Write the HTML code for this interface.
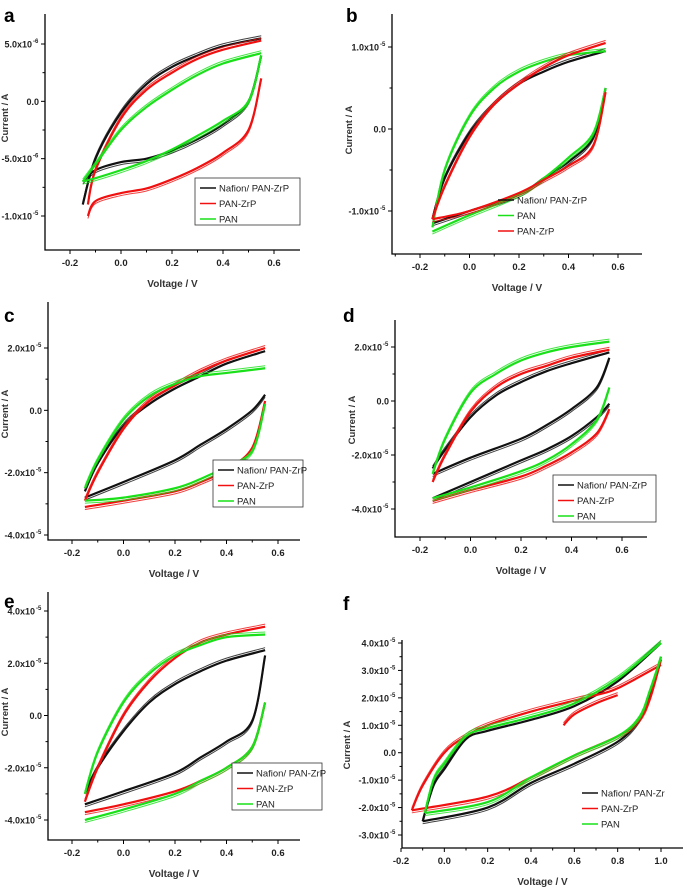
<!DOCTYPE html>
<html><head><meta charset="utf-8">
<style>
html,body{margin:0;padding:0;background:#fff;}
svg{display:block;font-family:"Liberation Sans",Arial,sans-serif;}
</style></head>
<body>
<svg id="fig" width="685" height="888" viewBox="0 0 685 888" xmlns="http://www.w3.org/2000/svg"></svg>
<script>
// ---- data (voltage in V, current in units of the panel scale) ----
const vUp = [-0.15,-0.1,0,0.1,0.2,0.3,0.4,0.55];
const vLo9 = [-0.15,-0.1,0,0.1,0.2,0.3,0.4,0.5,0.55];
const vLo7 = [-0.15,0,0.2,0.3,0.4,0.5,0.55];
// panel a (x1e-6 A)
const aBlackUp=[-9,-5,-1,1.5,3,4,4.8,5.5], aBlackLo=[-7,-6,-5.3,-5,-4.3,-3.3,-2,0,4];
const aRedUp=[-9,-6,-1.5,1,2.5,3.7,4.5,5.3], aRedLo=[-10,-8.7,-8,-7.6,-6.8,-5.8,-4.5,-2.5,2];
const aGreenUp=[-7,-5.5,-2.5,-0.5,1,2.3,3.3,4.2], aGreenLo=[-7,-6.7,-6,-5.2,-4.2,-3,-1.7,0,4];
// panel b (x1e-5 A)
const bBlackUp=[-1.1,-0.6,-0.05,0.3,0.55,0.7,0.82,0.95], bBlackLo=[-1.15,-1.0,-0.8,-0.6,-0.4,-0.1,0.5];
const bGreenUp=[-1.2,-0.5,0.15,0.5,0.7,0.82,0.9,0.95], bGreenLo=[-1.25,-1.05,-0.8,-0.6,-0.35,-0.05,0.5];
const bRedUp=[-1.1,-0.7,-0.1,0.3,0.55,0.75,0.9,1.05], bRedLo=[-1.1,-1.0,-0.78,-0.62,-0.45,-0.2,0.45];
// panel c
const cBlackUp=[-2.6,-1.7,-0.5,0.2,0.7,1.1,1.5,1.9], cBlackLo=[-2.8,-2.3,-1.6,-1.1,-0.6,0,0.5];
const cRedUp=[-2.9,-2.0,-0.6,0.3,0.8,1.25,1.6,2.0], cRedLo=[-3.1,-2.9,-2.6,-2.3,-1.9,-1.2,0.3];
const cGreenUp=[-2.5,-1.6,-0.3,0.45,0.85,1.1,1.2,1.35], cGreenLo=[-2.9,-2.8,-2.5,-2.2,-1.8,-1.3,0.2];
// panel d
const dBlackUp=[-2.5,-1.8,-0.6,0.2,0.7,1.1,1.4,1.8], dBlackLo=[-2.7,-2.1,-1.4,-0.9,-0.3,0.5,1.6];
const dBlack2Lo=[-3.6,-3.0,-2.2,-1.8,-1.3,-0.6,-0.1];
const dRedUp=[-3.0,-2.0,-0.4,0.5,1.0,1.3,1.6,1.9], dRedLo=[-3.7,-3.3,-2.8,-2.4,-1.9,-1.2,-0.3];
const dGreenUp=[-2.7,-1.4,0.3,1.0,1.5,1.8,2.0,2.2], dGreenLo=[-3.6,-3.2,-2.6,-2.2,-1.6,-0.7,0.5];
// panel e
const eBlackUp=[-3.0,-2.0,-0.6,0.5,1.2,1.7,2.1,2.5], eBlackLo=[-3.4,-2.9,-2.2,-1.6,-1.0,-0.2,2.3];
const eRedUp=[-3.3,-2.0,0.0,1.3,2.2,2.8,3.1,3.4], eRedLo=[-3.7,-3.4,-2.9,-2.5,-2.0,-1.2,0.5];
const eGreenUp=[-3.0,-1.4,0.5,1.6,2.3,2.7,3.0,3.1], eGreenLo=[-4.0,-3.6,-3.0,-2.5,-2.0,-1.2,0.5];
// panel f
const fVUp=[-0.1,-0.05,0,0.1,0.2,0.4,0.6,0.8,1.0], fVLo=[-0.1,0.2,0.4,0.6,0.8,0.9,0.95,1.0];
const fBlackUp=[-2.5,-1.2,-0.6,0.5,0.8,1.2,1.7,2.6,4.0], fBlackLo=[-2.5,-2.0,-1.1,-0.4,0.4,1.2,2.2,3.5];
const fGreenUp=[-2.2,-1.0,-0.4,0.6,0.9,1.3,1.8,2.7,4.0], fGreenLo=[-2.2,-1.8,-0.9,-0.1,0.6,1.3,2.3,3.5];
const fRVUp=[-0.15,-0.1,0,0.1,0.2,0.4,0.6,0.7,0.8,1.0], fRedUp=[-2.1,-1.2,0,0.6,1.0,1.5,1.9,2.1,2.35,3.2];
const fRVLo=[-0.15,0.2,0.4,0.6,0.8,0.9,0.95,1.0], fRedLo=[-2.1,-1.6,-0.9,-0.1,0.6,1.2,2.0,3.4];
const fRedTailV=[0.55,0.6,0.7,0.8], fRedTail=[1.0,1.4,1.8,2.1];

const xTicks06=[-0.2,0,0.2,0.4,0.6], xLab06=["-0.2","0.0","0.2","0.4","0.6"];
const xTicksF=[-0.2,0,0.2,0.4,0.6,0.8,1.0], xLabF=["-0.2","0.0","0.2","0.4","0.6","0.8","1.0"];

const NS="http://www.w3.org/2000/svg";
const svg=document.getElementById('fig');
function mk(tag,attrs,parent){const e=document.createElementNS(NS,tag);for(const k in attrs)e.setAttribute(k,attrs[k]);(parent||svg).appendChild(e);return e;}
function catmull(pts){let d=`M${pts[0][0]},${pts[0][1]}`;for(let i=0;i<pts.length-1;i++){const p0=pts[i-1]||pts[i],p1=pts[i],p2=pts[i+1],p3=pts[i+2]||p2;d+=` C${p1[0]+(p2[0]-p0[0])/6},${p1[1]+(p2[1]-p0[1])/6} ${p2[0]-(p3[0]-p1[0])/6},${p2[1]-(p3[1]-p1[1])/6} ${p2[0]},${p2[1]}`;}return d;}
const COL={k:'#111',r:'#f01010',g:'#19e019'};

const panels=[
 {id:'a',L:45,R:300,T:14,B:250,xr:[-0.2,70,0.6,274],yr:[5,44,-10,216],letter:[4,22],yc:118,
  yt:[-10,-5,0,5],yl:[["-1.0x10","-5"],["-5.0x10","-6"],["0.0",""],["5.0x10","-6"]],xt:xTicks06,xl:xLab06,
  series:[['k',vUp,aBlackUp,vLo9,aBlackLo],['r',vUp.map((v,i)=>i==0?-0.13:v),aRedUp,vLo9.map((v,i)=>i==0?-0.13:v),aRedLo],['g',vUp,aGreenUp,vLo9,aGreenLo]],
  leg:{x:195,y:178,w:105,names:['Nafion/ PAN-ZrP','PAN-ZrP','PAN'],cols:['k','r','g']}},
 {id:'b',L:392,R:642,T:14,B:254,xr:[-0.2,420,0.6,618],yr:[1,47,-1,211],letter:[346,22],yc:130,
  yt:[-1,0,1],yl:[["-1.0x10","-5"],["0.0",""],["1.0x10","-5"]],xt:xTicks06,xl:xLab06,
  series:[['k',vUp,bBlackUp,vLo7,bBlackLo],['g',vUp,bGreenUp,vLo7,bGreenLo],['r',vUp,bRedUp,vLo7,bRedLo]],
  leg:{x:493,y:192,w:0,names:['Nafion/ PAN-ZrP','PAN','PAN-ZrP'],cols:['k','g','r']}},
 {id:'c',L:48,R:300,T:302,B:540,xr:[-0.2,72,0.6,278],yr:[2,348,-4,535],letter:[4,322],yc:414,
  yt:[-4,-2,0,2],yl:[["-4.0x10","-5"],["-2.0x10","-5"],["0.0",""],["2.0x10","-5"]],xt:xTicks06,xl:xLab06,
  series:[['k',vUp,cBlackUp,vLo7,cBlackLo],['r',vUp,cRedUp,vLo7,cRedLo],['g',vUp,cGreenUp,vLo7,cGreenLo]],
  leg:{x:213,y:460,w:90,names:['Nafion/ PAN-ZrP','PAN-ZrP','PAN'],cols:['k','r','g']}},
 {id:'d',L:395,R:647,T:320,B:537,xr:[-0.2,420,0.6,622],yr:[2,347,-4,509],letter:[343,322],yc:420,
  yt:[-4,-2,0,2],yl:[["-4.0x10","-5"],["-2.0x10","-5"],["0.0",""],["2.0x10","-5"]],xt:xTicks06,xl:xLab06,
  series:[['k',vUp,dBlackUp,vLo7,dBlackLo],['k',null,null,vLo7,dBlack2Lo],['r',vUp,dRedUp,vLo7,dRedLo],['g',vUp,dGreenUp,vLo7,dGreenLo]],
  leg:{x:553,y:475,w:103,names:['Nafion/ PAN-ZrP','PAN-ZrP','PAN'],cols:['k','r','g']}},
 {id:'e',L:48,R:300,T:592,B:840,xr:[-0.2,72,0.6,278],yr:[4,611,-4,820],letter:[4,608],yc:712,
  yt:[-4,-2,0,2,4],yl:[["-4.0x10","-5"],["-2.0x10","-5"],["0.0",""],["2.0x10","-5"],["4.0x10","-5"]],xt:xTicks06,xl:xLab06,
  series:[['k',vUp,eBlackUp,vLo7,eBlackLo],['r',vUp,eRedUp,vLo7,eRedLo],['g',vUp,eGreenUp,vLo7,eGreenLo]],
  leg:{x:232,y:763,w:90,names:['Nafion/ PAN-ZrP','PAN-ZrP','PAN'],cols:['k','r','g']}},
 {id:'f',L:402,R:683,T:640,B:848,xr:[-0.2,401,1.0,661],yr:[4,643,-3,835],letter:[343,610],yc:745,
  yt:[-3,-2,-1,0,1,2,3,4],yl:[["-3.0x10","-5"],["-2.0x10","-5"],["-1.0x10","-5"],["0.0",""],["1.0x10","-5"],["2.0x10","-5"],["3.0x10","-5"],["4.0x10","-5"]],xt:xTicksF,xl:xLabF,
  series:[['k',fVUp,fBlackUp,fVLo,fBlackLo],['r',fRVUp,fRedUp,fRVLo,fRedLo],['r',fRedTailV,fRedTail,null,null],['g',fVUp.map((v,i)=>i==0?-0.09:v),fGreenUp,fVLo.map((v,i)=>i==0?-0.09:v),fGreenLo]],
  leg:{x:577,y:785,w:0,names:['Nafion/ PAN-Zr','PAN-ZrP','PAN'],cols:['k','r','g']}}
];

panels.forEach(p=>{
  const g=mk('g',{});
  
  
  const xs=v=>p.xr[1]+(v-p.xr[0])*(p.xr[3]-p.xr[1])/(p.xr[2]-p.xr[0]);
  const ys=v=>p.yr[1]+(v-p.yr[0])*(p.yr[3]-p.yr[1])/(p.yr[2]-p.yr[0]);
  const lt=mk('text',{x:p.letter[0],y:p.letter[1],'font-size':19,'font-weight':'bold',fill:'#000'},g);
  lt.textContent=p.id;
  
  
  p.series.forEach((s,si)=>{
    const [c,vu,iu,vl,il]=s;
    [[vu,iu],[vl,il]].forEach((br,bi)=>{
      if(!br[0])return;
      const pts=br[0].map((v,i)=>[xs(v),ys(br[1][i])]);
      const path=mk('path',{d:catmull(pts),fill:'none',stroke:COL[c],'stroke-width':2.2},g);
      
      
      const path2=mk('path',{d:catmull(pts.map(q=>[q[0],q[1]+(bi?2.5:-2.5)])),fill:'none',stroke:COL[c],'stroke-width':1,opacity:0.8},g);
      
      
    });
  });
  const ax=mk('path',{d:`M${p.L},${p.T} V${p.B} H${p.R}`,fill:'none',stroke:'#000','stroke-width':1.3},g);
  
  
  p.xt.forEach((v,i)=>{
    mk('line',{x1:xs(v),x2:xs(v),y1:p.B,y2:p.B+4,stroke:'#000'},g);
    if(i<p.xt.length-1){const m=xs(v+0.1);mk('line',{x1:m,x2:m,y1:p.B,y2:p.B+2.5,stroke:'#000'},g);}
    const t=mk('text',{x:xs(v),y:p.B+16,'font-size':9.5,'font-weight':'bold','text-anchor':'middle',fill:'#222'},g);
    t.textContent=p.xl[i];
    
    
  });
  const xm=xs(p.xt[0]-0.1); if(xm>p.L) mk('line',{x1:xm,x2:xm,y1:p.B,y2:p.B+2.5,stroke:'#000'},g);
  p.yt.forEach((v,i)=>{
    mk('line',{x1:p.L-4,x2:p.L,y1:ys(v),y2:ys(v),stroke:'#000'},g);
    const t=mk('text',{x:p.L-6,y:ys(v)+3.5,'font-size':9,'font-weight':'bold','text-anchor':'end',fill:'#222'},g);
    
    
    const [base,exp]=p.yl[i];
    if(exp){t.setAttribute('x',p.L-13);t.textContent=base;
      const e=mk('text',{x:p.L-12,y:ys(v)-1,'font-size':6,'font-weight':'bold',fill:'#222'},g);e.textContent=exp;
      
      }
    else t.textContent=base;
    if(i<p.yt.length-1){const step=p.yt[i+1]-v;const m=ys(v+step/2);mk('line',{x1:p.L-2.5,x2:p.L,y1:m,y2:m,stroke:'#000'},g);}
  });
  const xt=mk('text',{x:(p.L+p.R)/2,y:p.B+37,'font-size':10,'font-weight':'bold','text-anchor':'middle',fill:'#333'},g);
  xt.textContent='Voltage / V';
  
  
  const yc=p.yc, yx=p.id==='f'?350:(p.L<200?8:p.L-40);
  const yt=mk('text',{x:yx,y:yc,'font-size':9.5,'font-weight':'bold','text-anchor':'middle',fill:'#333',transform:`rotate(-90 ${yx} ${yc})`},g);
  yt.textContent='Current / A';
  
  
  const L=p.leg;
  const lg=mk('g',{},g);
  
  
  if(L.w) mk('rect',{x:L.x,y:L.y,width:L.w,height:47,fill:'#fff',stroke:'#333','stroke-width':0.8},lg);
  L.names.forEach((n,i)=>{
    const yy=L.y+(L.w?10:8)+i*15.5;
    mk('line',{x1:L.x+5,x2:L.x+21,y1:yy,y2:yy,stroke:COL[L.cols[i]],'stroke-width':1.5},lg);
    const t=mk('text',{x:L.x+24,y:yy+3.5,'font-size':9.5,fill:'#222'},lg);
    t.textContent=n;
    
    
  });
});
</script>
</body></html>
